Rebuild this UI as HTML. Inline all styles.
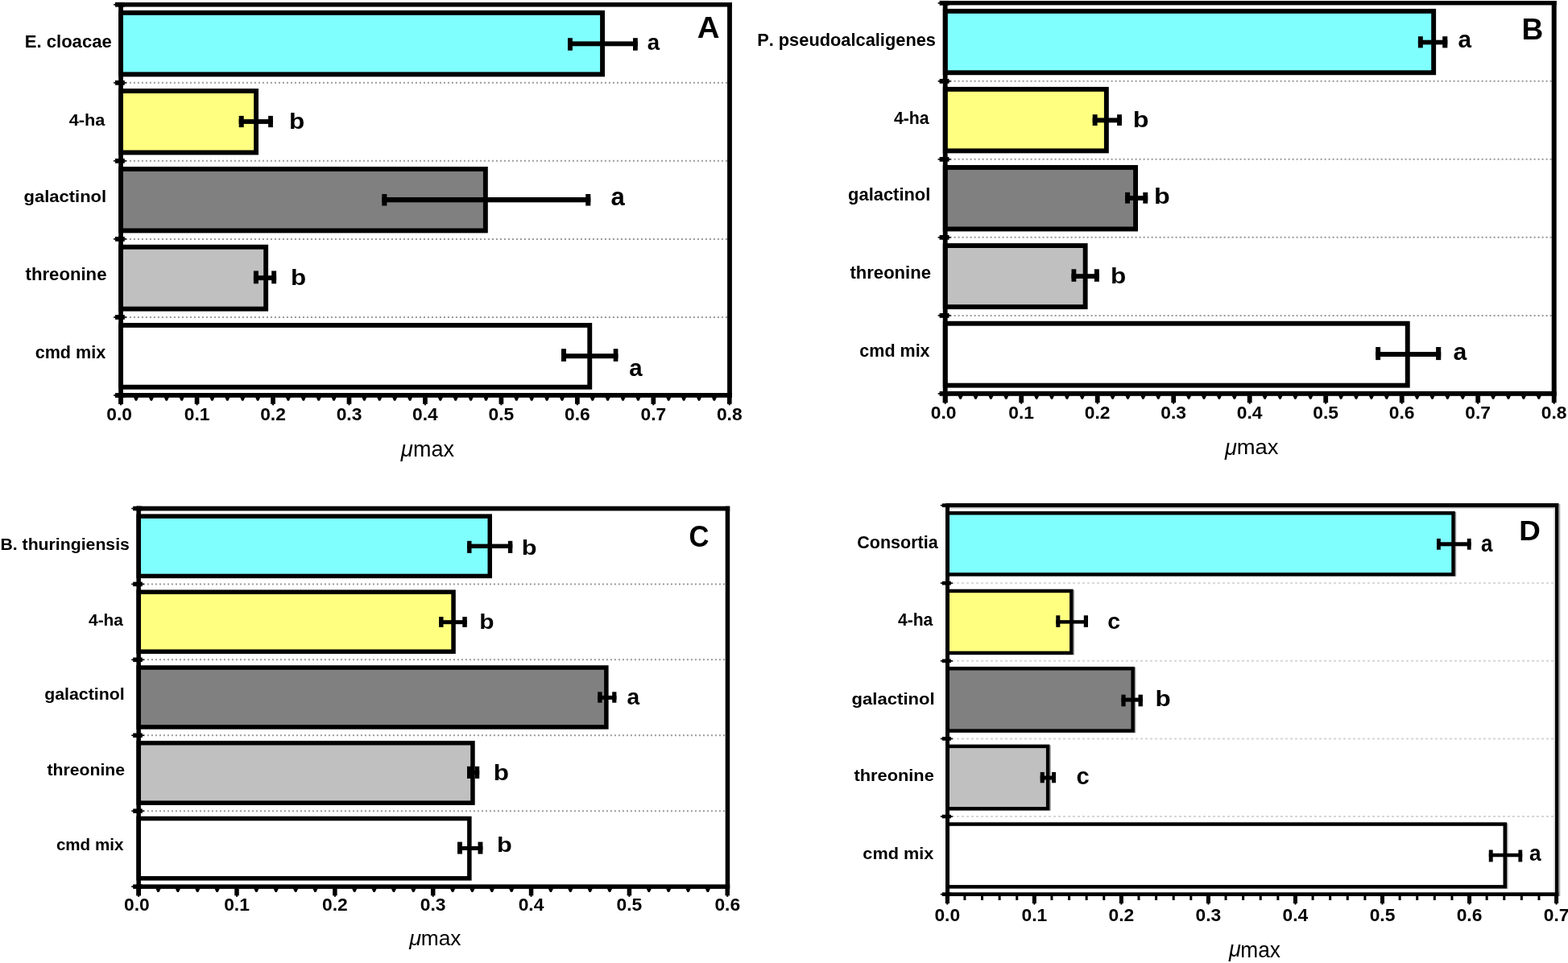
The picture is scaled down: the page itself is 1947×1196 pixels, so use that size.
<!DOCTYPE html>
<html><head><meta charset="utf-8"><title>μmax bar charts</title>
<style>
html,body{margin:0;padding:0;background:#fff;}
body{width:1947px;height:1196px;overflow:hidden;}
svg{display:block;font-family:'Liberation Sans', Arial, sans-serif;font-kerning:none;}
</style></head><body>
<svg width="1947" height="1196" viewBox="0 0 1947 1196">
<rect width="1947" height="1196" fill="#fff"/>
<line x1="155.90" y1="102.76" x2="903.10" y2="102.76" stroke="#999999" stroke-width="2" stroke-dasharray="2 3"/>
<line x1="155.90" y1="199.82" x2="903.10" y2="199.82" stroke="#999999" stroke-width="2" stroke-dasharray="2 3"/>
<line x1="155.90" y1="296.88" x2="903.10" y2="296.88" stroke="#999999" stroke-width="2" stroke-dasharray="2 3"/>
<line x1="155.90" y1="393.94" x2="903.10" y2="393.94" stroke="#999999" stroke-width="2" stroke-dasharray="2 3"/>
<rect x="147.20" y="12.90" width="603.80" height="82.40" fill="#000"/>
<rect x="152.90" y="18.80" width="592.20" height="70.60" fill="#80ffff"/>
<rect x="147.20" y="110.00" width="173.80" height="82.40" fill="#000"/>
<rect x="152.90" y="115.90" width="162.20" height="70.60" fill="#ffff80"/>
<rect x="147.20" y="207.00" width="458.60" height="82.40" fill="#000"/>
<rect x="152.90" y="212.90" width="447.00" height="70.60" fill="#808080"/>
<rect x="147.20" y="303.80" width="185.90" height="82.80" fill="#000"/>
<rect x="152.90" y="309.70" width="174.30" height="71.00" fill="#c0c0c0"/>
<rect x="147.20" y="401.00" width="588.00" height="82.70" fill="#000"/>
<rect x="152.90" y="406.90" width="576.40" height="70.90" fill="#ffffff"/>
<rect x="705.00" y="51.40" width="86.80" height="5.90" fill="#000"/>
<rect x="705.00" y="47.20" width="5.90" height="15.50" fill="#000"/>
<rect x="786.00" y="47.20" width="5.80" height="15.50" fill="#000"/>
<rect x="296.70" y="148.10" width="42.20" height="5.80" fill="#000"/>
<rect x="296.70" y="143.90" width="6.00" height="14.20" fill="#000"/>
<rect x="333.10" y="143.90" width="5.80" height="14.20" fill="#000"/>
<rect x="474.30" y="245.00" width="259.00" height="6.30" fill="#000"/>
<rect x="474.30" y="241.00" width="6.10" height="14.50" fill="#000"/>
<rect x="727.20" y="241.00" width="6.10" height="14.50" fill="#000"/>
<rect x="314.90" y="342.20" width="28.20" height="5.90" fill="#000"/>
<rect x="314.90" y="336.40" width="6.00" height="15.90" fill="#000"/>
<rect x="337.20" y="336.40" width="5.90" height="15.90" fill="#000"/>
<rect x="697.00" y="439.20" width="70.40" height="6.00" fill="#000"/>
<rect x="697.00" y="433.20" width="6.00" height="15.70" fill="#000"/>
<rect x="761.70" y="433.20" width="5.70" height="15.70" fill="#000"/>
<rect x="147.20" y="3.00" width="761.70" height="5.50" fill="#000"/>
<rect x="147.20" y="3.00" width="5.70" height="498.80" fill="#000"/>
<rect x="903.10" y="3.00" width="5.80" height="490.80" fill="#000"/>
<rect x="147.20" y="488.00" width="761.70" height="5.80" fill="#000"/>
<rect x="143.00" y="2.80" width="11.80" height="5.80" fill="#000"/>
<rect x="141.00" y="4.90" width="15.90" height="1.60" fill="#000"/>
<rect x="143.00" y="99.86" width="11.80" height="5.80" fill="#000"/>
<rect x="141.00" y="101.96" width="15.90" height="1.60" fill="#000"/>
<rect x="143.00" y="196.92" width="11.80" height="5.80" fill="#000"/>
<rect x="141.00" y="199.02" width="15.90" height="1.60" fill="#000"/>
<rect x="143.00" y="293.98" width="11.80" height="5.80" fill="#000"/>
<rect x="141.00" y="296.08" width="15.90" height="1.60" fill="#000"/>
<rect x="143.00" y="391.04" width="11.80" height="5.80" fill="#000"/>
<rect x="141.00" y="393.14" width="15.90" height="1.60" fill="#000"/>
<rect x="143.00" y="488.10" width="11.80" height="5.80" fill="#000"/>
<rect x="141.00" y="490.20" width="15.90" height="1.60" fill="#000"/>
<rect x="147.25" y="493.30" width="5.70" height="8.50" fill="#000"/>
<rect x="149.10" y="501.30" width="2.00" height="2.00" fill="#000"/>
<text x="132.25" y="522.00" font-size="22.80" font-weight="bold">0.0</text>
<path d="M165.79,493.30 L172.19,493.30 L169.99,497.80 L167.99,497.80 Z" fill="#000"/>
<path d="M184.68,493.30 L191.08,493.30 L188.88,497.80 L186.88,497.80 Z" fill="#000"/>
<path d="M203.58,493.30 L209.98,493.30 L207.78,497.80 L205.78,497.80 Z" fill="#000"/>
<path d="M222.47,493.30 L228.87,493.30 L226.67,497.80 L224.67,497.80 Z" fill="#000"/>
<rect x="241.71" y="493.30" width="5.70" height="8.50" fill="#000"/>
<rect x="243.56" y="501.30" width="2.00" height="2.00" fill="#000"/>
<text x="228.71" y="522.00" font-size="22.80" font-weight="bold">0.1</text>
<path d="M260.25,493.30 L266.65,493.30 L264.45,497.80 L262.45,497.80 Z" fill="#000"/>
<path d="M279.14,493.30 L285.54,493.30 L283.34,497.80 L281.34,497.80 Z" fill="#000"/>
<path d="M298.04,493.30 L304.44,493.30 L302.24,497.80 L300.24,497.80 Z" fill="#000"/>
<path d="M316.93,493.30 L323.33,493.30 L321.13,497.80 L319.13,497.80 Z" fill="#000"/>
<rect x="336.17" y="493.30" width="5.70" height="8.50" fill="#000"/>
<rect x="338.02" y="501.30" width="2.00" height="2.00" fill="#000"/>
<text x="323.17" y="522.00" font-size="22.80" font-weight="bold">0.2</text>
<path d="M354.71,493.30 L361.11,493.30 L358.91,497.80 L356.91,497.80 Z" fill="#000"/>
<path d="M373.60,493.30 L380.00,493.30 L377.80,497.80 L375.80,497.80 Z" fill="#000"/>
<path d="M392.50,493.30 L398.90,493.30 L396.70,497.80 L394.70,497.80 Z" fill="#000"/>
<path d="M411.39,493.30 L417.79,493.30 L415.59,497.80 L413.59,497.80 Z" fill="#000"/>
<rect x="430.63" y="493.30" width="5.70" height="8.50" fill="#000"/>
<rect x="432.48" y="501.30" width="2.00" height="2.00" fill="#000"/>
<text x="417.63" y="522.00" font-size="22.80" font-weight="bold">0.3</text>
<path d="M449.17,493.30 L455.57,493.30 L453.37,497.80 L451.37,497.80 Z" fill="#000"/>
<path d="M468.06,493.30 L474.46,493.30 L472.26,497.80 L470.26,497.80 Z" fill="#000"/>
<path d="M486.96,493.30 L493.36,493.30 L491.16,497.80 L489.16,497.80 Z" fill="#000"/>
<path d="M505.85,493.30 L512.25,493.30 L510.05,497.80 L508.05,497.80 Z" fill="#000"/>
<rect x="525.09" y="493.30" width="5.70" height="8.50" fill="#000"/>
<rect x="526.94" y="501.30" width="2.00" height="2.00" fill="#000"/>
<text x="512.09" y="522.00" font-size="22.80" font-weight="bold">0.4</text>
<path d="M543.63,493.30 L550.03,493.30 L547.83,497.80 L545.83,497.80 Z" fill="#000"/>
<path d="M562.52,493.30 L568.92,493.30 L566.72,497.80 L564.72,497.80 Z" fill="#000"/>
<path d="M581.42,493.30 L587.82,493.30 L585.62,497.80 L583.62,497.80 Z" fill="#000"/>
<path d="M600.31,493.30 L606.71,493.30 L604.51,497.80 L602.51,497.80 Z" fill="#000"/>
<rect x="619.55" y="493.30" width="5.70" height="8.50" fill="#000"/>
<rect x="621.40" y="501.30" width="2.00" height="2.00" fill="#000"/>
<text x="606.55" y="522.00" font-size="22.80" font-weight="bold">0.5</text>
<path d="M638.09,493.30 L644.49,493.30 L642.29,497.80 L640.29,497.80 Z" fill="#000"/>
<path d="M656.98,493.30 L663.38,493.30 L661.18,497.80 L659.18,497.80 Z" fill="#000"/>
<path d="M675.88,493.30 L682.28,493.30 L680.08,497.80 L678.08,497.80 Z" fill="#000"/>
<path d="M694.77,493.30 L701.17,493.30 L698.97,497.80 L696.97,497.80 Z" fill="#000"/>
<rect x="714.01" y="493.30" width="5.70" height="8.50" fill="#000"/>
<rect x="715.86" y="501.30" width="2.00" height="2.00" fill="#000"/>
<text x="701.01" y="522.00" font-size="22.80" font-weight="bold">0.6</text>
<path d="M732.55,493.30 L738.95,493.30 L736.75,497.80 L734.75,497.80 Z" fill="#000"/>
<path d="M751.44,493.30 L757.84,493.30 L755.64,497.80 L753.64,497.80 Z" fill="#000"/>
<path d="M770.34,493.30 L776.74,493.30 L774.54,497.80 L772.54,497.80 Z" fill="#000"/>
<path d="M789.23,493.30 L795.63,493.30 L793.43,497.80 L791.43,497.80 Z" fill="#000"/>
<rect x="808.47" y="493.30" width="5.70" height="8.50" fill="#000"/>
<rect x="810.32" y="501.30" width="2.00" height="2.00" fill="#000"/>
<text x="795.47" y="522.00" font-size="22.80" font-weight="bold">0.7</text>
<path d="M827.01,493.30 L833.41,493.30 L831.21,497.80 L829.21,497.80 Z" fill="#000"/>
<path d="M845.90,493.30 L852.30,493.30 L850.10,497.80 L848.10,497.80 Z" fill="#000"/>
<path d="M864.80,493.30 L871.20,493.30 L869.00,497.80 L867.00,497.80 Z" fill="#000"/>
<path d="M883.69,493.30 L890.09,493.30 L887.89,497.80 L885.89,497.80 Z" fill="#000"/>
<rect x="902.93" y="493.30" width="5.70" height="8.50" fill="#000"/>
<rect x="904.78" y="501.30" width="2.00" height="2.00" fill="#000"/>
<text x="889.93" y="522.00" font-size="22.80" font-weight="bold">0.8</text>
<text x="30.72" y="59.20" font-size="22.36" font-weight="bold" font-style="normal" textLength="108.03" lengthAdjust="spacingAndGlyphs" fill="#000">E. cloacae</text>
<text x="85.77" y="155.70" font-size="20.98" font-weight="bold" font-style="normal" textLength="44.69" lengthAdjust="spacingAndGlyphs" fill="#000">4-ha</text>
<text x="29.60" y="250.50" font-size="20.98" font-weight="bold" font-style="normal" textLength="102.56" lengthAdjust="spacingAndGlyphs" fill="#000">galactinol</text>
<text x="31.63" y="347.60" font-size="21.53" font-weight="bold" font-style="normal" textLength="100.83" lengthAdjust="spacingAndGlyphs" fill="#000">threonine</text>
<text x="43.66" y="444.90" font-size="21.67" font-weight="bold" font-style="normal" textLength="87.50" lengthAdjust="spacingAndGlyphs" fill="#000">cmd mix</text>
<text x="803.69" y="62.42" font-size="28.29" font-weight="bold" font-style="normal" textLength="15.33" lengthAdjust="spacingAndGlyphs" fill="#000">a</text>
<text x="359.02" y="159.93" font-size="27.37" font-weight="bold" font-style="normal" textLength="19.27" lengthAdjust="spacingAndGlyphs" fill="#000">b</text>
<text x="758.59" y="255.20" font-size="31.21" font-weight="bold" font-style="normal" textLength="17.31" lengthAdjust="spacingAndGlyphs" fill="#000">a</text>
<text x="361.13" y="354.13" font-size="27.64" font-weight="bold" font-style="normal" textLength="19.15" lengthAdjust="spacingAndGlyphs" fill="#000">b</text>
<text x="781.24" y="467.41" font-size="30.12" font-weight="bold" font-style="normal" textLength="16.38" lengthAdjust="spacingAndGlyphs" fill="#000">a</text>
<text x="865.84" y="46.90" font-size="37.65" font-weight="bold" font-style="normal" textLength="27.77" lengthAdjust="spacingAndGlyphs" fill="#000">A</text>
<text x="497.78" y="566.99" font-size="28.19" font-weight="normal" font-style="italic" textLength="15.07" lengthAdjust="spacingAndGlyphs" fill="#000">μ</text>
<text x="513.11" y="566.50" font-size="26.76" font-weight="normal" font-style="normal" textLength="50.88" lengthAdjust="spacingAndGlyphs" fill="#000">max</text>
<line x1="1179.60" y1="100.82" x2="1926.70" y2="100.82" stroke="#999999" stroke-width="2" stroke-dasharray="2 3"/>
<line x1="1179.60" y1="197.84" x2="1926.70" y2="197.84" stroke="#999999" stroke-width="2" stroke-dasharray="2 3"/>
<line x1="1179.60" y1="294.86" x2="1926.70" y2="294.86" stroke="#999999" stroke-width="2" stroke-dasharray="2 3"/>
<line x1="1179.60" y1="391.88" x2="1926.70" y2="391.88" stroke="#999999" stroke-width="2" stroke-dasharray="2 3"/>
<rect x="1170.80" y="10.90" width="612.30" height="82.30" fill="#000"/>
<rect x="1176.60" y="16.80" width="600.60" height="70.50" fill="#80ffff"/>
<rect x="1170.80" y="107.90" width="206.00" height="82.40" fill="#000"/>
<rect x="1176.60" y="113.80" width="194.30" height="70.60" fill="#ffff80"/>
<rect x="1170.80" y="205.00" width="242.20" height="82.40" fill="#000"/>
<rect x="1176.60" y="210.90" width="230.50" height="70.60" fill="#808080"/>
<rect x="1170.80" y="302.10" width="179.80" height="82.00" fill="#000"/>
<rect x="1176.60" y="308.00" width="168.10" height="70.20" fill="#c0c0c0"/>
<rect x="1170.80" y="398.80" width="579.90" height="82.80" fill="#000"/>
<rect x="1176.60" y="404.70" width="568.20" height="71.00" fill="#ffffff"/>
<rect x="1760.90" y="49.70" width="36.40" height="5.70" fill="#000"/>
<rect x="1760.90" y="45.20" width="5.90" height="14.20" fill="#000"/>
<rect x="1791.20" y="45.20" width="6.10" height="14.20" fill="#000"/>
<rect x="1356.70" y="146.40" width="36.20" height="5.90" fill="#000"/>
<rect x="1356.70" y="142.20" width="5.90" height="13.80" fill="#000"/>
<rect x="1387.10" y="142.20" width="5.80" height="13.80" fill="#000"/>
<rect x="1397.10" y="243.10" width="28.10" height="5.80" fill="#000"/>
<rect x="1397.10" y="238.90" width="5.90" height="13.80" fill="#000"/>
<rect x="1419.30" y="238.90" width="5.90" height="13.80" fill="#000"/>
<rect x="1330.50" y="340.20" width="34.30" height="5.80" fill="#000"/>
<rect x="1330.50" y="334.30" width="5.80" height="15.50" fill="#000"/>
<rect x="1358.90" y="334.30" width="5.90" height="15.50" fill="#000"/>
<rect x="1708.20" y="437.00" width="81.00" height="6.00" fill="#000"/>
<rect x="1708.20" y="431.00" width="5.90" height="16.10" fill="#000"/>
<rect x="1783.10" y="431.00" width="6.10" height="16.10" fill="#000"/>
<rect x="1170.80" y="1.00" width="761.90" height="5.40" fill="#000"/>
<rect x="1170.80" y="1.00" width="5.80" height="499.20" fill="#000"/>
<rect x="1926.70" y="1.00" width="6.00" height="490.80" fill="#000"/>
<rect x="1170.80" y="485.90" width="761.90" height="5.90" fill="#000"/>
<rect x="1166.60" y="0.90" width="11.90" height="5.80" fill="#000"/>
<rect x="1164.60" y="3.00" width="16.00" height="1.60" fill="#000"/>
<rect x="1166.60" y="97.92" width="11.90" height="5.80" fill="#000"/>
<rect x="1164.60" y="100.02" width="16.00" height="1.60" fill="#000"/>
<rect x="1166.60" y="194.94" width="11.90" height="5.80" fill="#000"/>
<rect x="1164.60" y="197.04" width="16.00" height="1.60" fill="#000"/>
<rect x="1166.60" y="291.96" width="11.90" height="5.80" fill="#000"/>
<rect x="1164.60" y="294.06" width="16.00" height="1.60" fill="#000"/>
<rect x="1166.60" y="388.98" width="11.90" height="5.80" fill="#000"/>
<rect x="1164.60" y="391.08" width="16.00" height="1.60" fill="#000"/>
<rect x="1166.60" y="486.00" width="11.90" height="5.80" fill="#000"/>
<rect x="1164.60" y="488.10" width="16.00" height="1.60" fill="#000"/>
<rect x="1170.80" y="491.30" width="5.80" height="8.90" fill="#000"/>
<rect x="1172.70" y="499.70" width="2.00" height="2.00" fill="#000"/>
<text x="1155.85" y="519.80" font-size="22.80" font-weight="bold">0.0</text>
<path d="M1189.40,491.30 L1195.80,491.30 L1193.60,495.80 L1191.60,495.80 Z" fill="#000"/>
<path d="M1208.30,491.30 L1214.70,491.30 L1212.50,495.80 L1210.50,495.80 Z" fill="#000"/>
<path d="M1227.20,491.30 L1233.60,491.30 L1231.40,495.80 L1229.40,495.80 Z" fill="#000"/>
<path d="M1246.10,491.30 L1252.50,491.30 L1250.30,495.80 L1248.30,495.80 Z" fill="#000"/>
<rect x="1265.30" y="491.30" width="5.80" height="8.90" fill="#000"/>
<rect x="1267.20" y="499.70" width="2.00" height="2.00" fill="#000"/>
<text x="1252.35" y="519.80" font-size="22.80" font-weight="bold">0.1</text>
<path d="M1283.90,491.30 L1290.30,491.30 L1288.10,495.80 L1286.10,495.80 Z" fill="#000"/>
<path d="M1302.80,491.30 L1309.20,491.30 L1307.00,495.80 L1305.00,495.80 Z" fill="#000"/>
<path d="M1321.70,491.30 L1328.10,491.30 L1325.90,495.80 L1323.90,495.80 Z" fill="#000"/>
<path d="M1340.60,491.30 L1347.00,491.30 L1344.80,495.80 L1342.80,495.80 Z" fill="#000"/>
<rect x="1359.80" y="491.30" width="5.80" height="8.90" fill="#000"/>
<rect x="1361.70" y="499.70" width="2.00" height="2.00" fill="#000"/>
<text x="1346.85" y="519.80" font-size="22.80" font-weight="bold">0.2</text>
<path d="M1378.40,491.30 L1384.80,491.30 L1382.60,495.80 L1380.60,495.80 Z" fill="#000"/>
<path d="M1397.30,491.30 L1403.70,491.30 L1401.50,495.80 L1399.50,495.80 Z" fill="#000"/>
<path d="M1416.20,491.30 L1422.60,491.30 L1420.40,495.80 L1418.40,495.80 Z" fill="#000"/>
<path d="M1435.10,491.30 L1441.50,491.30 L1439.30,495.80 L1437.30,495.80 Z" fill="#000"/>
<rect x="1454.30" y="491.30" width="5.80" height="8.90" fill="#000"/>
<rect x="1456.20" y="499.70" width="2.00" height="2.00" fill="#000"/>
<text x="1441.35" y="519.80" font-size="22.80" font-weight="bold">0.3</text>
<path d="M1472.90,491.30 L1479.30,491.30 L1477.10,495.80 L1475.10,495.80 Z" fill="#000"/>
<path d="M1491.80,491.30 L1498.20,491.30 L1496.00,495.80 L1494.00,495.80 Z" fill="#000"/>
<path d="M1510.70,491.30 L1517.10,491.30 L1514.90,495.80 L1512.90,495.80 Z" fill="#000"/>
<path d="M1529.60,491.30 L1536.00,491.30 L1533.80,495.80 L1531.80,495.80 Z" fill="#000"/>
<rect x="1548.80" y="491.30" width="5.80" height="8.90" fill="#000"/>
<rect x="1550.70" y="499.70" width="2.00" height="2.00" fill="#000"/>
<text x="1535.85" y="519.80" font-size="22.80" font-weight="bold">0.4</text>
<path d="M1567.40,491.30 L1573.80,491.30 L1571.60,495.80 L1569.60,495.80 Z" fill="#000"/>
<path d="M1586.30,491.30 L1592.70,491.30 L1590.50,495.80 L1588.50,495.80 Z" fill="#000"/>
<path d="M1605.20,491.30 L1611.60,491.30 L1609.40,495.80 L1607.40,495.80 Z" fill="#000"/>
<path d="M1624.10,491.30 L1630.50,491.30 L1628.30,495.80 L1626.30,495.80 Z" fill="#000"/>
<rect x="1643.30" y="491.30" width="5.80" height="8.90" fill="#000"/>
<rect x="1645.20" y="499.70" width="2.00" height="2.00" fill="#000"/>
<text x="1630.35" y="519.80" font-size="22.80" font-weight="bold">0.5</text>
<path d="M1661.90,491.30 L1668.30,491.30 L1666.10,495.80 L1664.10,495.80 Z" fill="#000"/>
<path d="M1680.80,491.30 L1687.20,491.30 L1685.00,495.80 L1683.00,495.80 Z" fill="#000"/>
<path d="M1699.70,491.30 L1706.10,491.30 L1703.90,495.80 L1701.90,495.80 Z" fill="#000"/>
<path d="M1718.60,491.30 L1725.00,491.30 L1722.80,495.80 L1720.80,495.80 Z" fill="#000"/>
<rect x="1737.80" y="491.30" width="5.80" height="8.90" fill="#000"/>
<rect x="1739.70" y="499.70" width="2.00" height="2.00" fill="#000"/>
<text x="1724.85" y="519.80" font-size="22.80" font-weight="bold">0.6</text>
<path d="M1756.40,491.30 L1762.80,491.30 L1760.60,495.80 L1758.60,495.80 Z" fill="#000"/>
<path d="M1775.30,491.30 L1781.70,491.30 L1779.50,495.80 L1777.50,495.80 Z" fill="#000"/>
<path d="M1794.20,491.30 L1800.60,491.30 L1798.40,495.80 L1796.40,495.80 Z" fill="#000"/>
<path d="M1813.10,491.30 L1819.50,491.30 L1817.30,495.80 L1815.30,495.80 Z" fill="#000"/>
<rect x="1832.30" y="491.30" width="5.80" height="8.90" fill="#000"/>
<rect x="1834.20" y="499.70" width="2.00" height="2.00" fill="#000"/>
<text x="1819.35" y="519.80" font-size="22.80" font-weight="bold">0.7</text>
<path d="M1850.90,491.30 L1857.30,491.30 L1855.10,495.80 L1853.10,495.80 Z" fill="#000"/>
<path d="M1869.80,491.30 L1876.20,491.30 L1874.00,495.80 L1872.00,495.80 Z" fill="#000"/>
<path d="M1888.70,491.30 L1895.10,491.30 L1892.90,495.80 L1890.90,495.80 Z" fill="#000"/>
<path d="M1907.60,491.30 L1914.00,491.30 L1911.80,495.80 L1909.80,495.80 Z" fill="#000"/>
<rect x="1926.80" y="491.30" width="5.80" height="8.90" fill="#000"/>
<rect x="1928.70" y="499.70" width="2.00" height="2.00" fill="#000"/>
<text x="1913.85" y="519.80" font-size="22.80" font-weight="bold">0.8</text>
<text x="940.14" y="57.20" font-size="22.08" font-weight="bold" font-style="normal" textLength="221.85" lengthAdjust="spacingAndGlyphs" fill="#000">P. pseudoalcaligenes</text>
<text x="1109.88" y="153.90" font-size="21.80" font-weight="bold" font-style="normal" textLength="43.79" lengthAdjust="spacingAndGlyphs" fill="#000">4-ha</text>
<text x="1053.10" y="248.80" font-size="21.80" font-weight="bold" font-style="normal" textLength="102.25" lengthAdjust="spacingAndGlyphs" fill="#000">galactinol</text>
<text x="1055.43" y="346.10" font-size="22.08" font-weight="bold" font-style="normal" fill="#000">threonine</text>
<text x="1067.36" y="442.70" font-size="21.25" font-weight="bold" font-style="normal" textLength="87.20" lengthAdjust="spacingAndGlyphs" fill="#000">cmd mix</text>
<text x="1810.63" y="58.62" font-size="28.84" font-weight="bold" font-style="normal" textLength="16.58" lengthAdjust="spacingAndGlyphs" fill="#000">a</text>
<text x="1406.87" y="157.83" font-size="27.37" font-weight="bold" font-style="normal" textLength="19.76" lengthAdjust="spacingAndGlyphs" fill="#000">b</text>
<text x="1433.07" y="252.83" font-size="27.37" font-weight="bold" font-style="normal" textLength="19.76" lengthAdjust="spacingAndGlyphs" fill="#000">b</text>
<text x="1379.02" y="351.64" font-size="26.83" font-weight="bold" font-style="normal" textLength="19.27" lengthAdjust="spacingAndGlyphs" fill="#000">b</text>
<text x="1804.62" y="446.81" font-size="29.39" font-weight="bold" font-style="normal" textLength="16.79" lengthAdjust="spacingAndGlyphs" fill="#000">a</text>
<text x="1889.52" y="48.90" font-size="37.65" font-weight="bold" font-style="normal" textLength="26.76" lengthAdjust="spacingAndGlyphs" fill="#000">B</text>
<text x="1521.07" y="564.97" font-size="27.77" font-weight="normal" font-style="italic" textLength="14.87" lengthAdjust="spacingAndGlyphs" fill="#000">μ</text>
<text x="1535.68" y="564.20" font-size="25.83" font-weight="normal" font-style="normal" textLength="51.71" lengthAdjust="spacingAndGlyphs" fill="#000">max</text>
<line x1="177.90" y1="725.43" x2="900.70" y2="725.43" stroke="#999999" stroke-width="2" stroke-dasharray="2 3"/>
<line x1="177.90" y1="819.36" x2="900.70" y2="819.36" stroke="#999999" stroke-width="2" stroke-dasharray="2 3"/>
<line x1="177.90" y1="913.29" x2="900.70" y2="913.29" stroke="#999999" stroke-width="2" stroke-dasharray="2 3"/>
<line x1="177.90" y1="1007.22" x2="900.70" y2="1007.22" stroke="#999999" stroke-width="2" stroke-dasharray="2 3"/>
<rect x="169.40" y="638.40" width="441.60" height="79.80" fill="#000"/>
<rect x="174.90" y="643.90" width="430.60" height="68.80" fill="#80ffff"/>
<rect x="169.40" y="732.50" width="396.40" height="79.50" fill="#000"/>
<rect x="174.90" y="738.00" width="385.40" height="68.50" fill="#ffff80"/>
<rect x="169.40" y="826.30" width="586.20" height="79.40" fill="#000"/>
<rect x="174.90" y="831.80" width="575.20" height="68.40" fill="#808080"/>
<rect x="169.40" y="920.00" width="420.30" height="79.90" fill="#000"/>
<rect x="174.90" y="925.50" width="409.30" height="68.90" fill="#c0c0c0"/>
<rect x="169.40" y="1013.80" width="416.20" height="79.80" fill="#000"/>
<rect x="174.90" y="1019.30" width="405.20" height="68.80" fill="#ffffff"/>
<rect x="580.10" y="675.60" width="56.20" height="5.40" fill="#000"/>
<rect x="580.10" y="671.80" width="5.40" height="15.10" fill="#000"/>
<rect x="630.90" y="671.80" width="5.40" height="15.10" fill="#000"/>
<rect x="545.10" y="770.20" width="34.70" height="5.00" fill="#000"/>
<rect x="545.10" y="766.00" width="5.40" height="12.90" fill="#000"/>
<rect x="574.30" y="766.00" width="5.50" height="12.90" fill="#000"/>
<rect x="742.20" y="863.90" width="23.20" height="5.00" fill="#000"/>
<rect x="742.20" y="859.30" width="5.40" height="13.40" fill="#000"/>
<rect x="760.20" y="859.30" width="5.20" height="13.40" fill="#000"/>
<rect x="580.00" y="957.00" width="15.20" height="5.00" fill="#000"/>
<rect x="580.00" y="951.80" width="5.20" height="15.10" fill="#000"/>
<rect x="589.70" y="951.80" width="5.50" height="15.10" fill="#000"/>
<rect x="568.00" y="1051.00" width="31.40" height="5.00" fill="#000"/>
<rect x="568.00" y="1045.60" width="5.90" height="15.00" fill="#000"/>
<rect x="593.50" y="1045.60" width="5.90" height="15.00" fill="#000"/>
<rect x="169.40" y="628.70" width="736.80" height="5.70" fill="#000"/>
<rect x="169.40" y="628.70" width="5.50" height="483.60" fill="#000"/>
<rect x="900.70" y="628.70" width="5.50" height="475.20" fill="#000"/>
<rect x="169.40" y="1098.40" width="736.80" height="5.50" fill="#000"/>
<rect x="165.20" y="628.75" width="11.60" height="5.50" fill="#000"/>
<rect x="163.20" y="630.70" width="15.70" height="1.60" fill="#000"/>
<rect x="165.20" y="722.68" width="11.60" height="5.50" fill="#000"/>
<rect x="163.20" y="724.63" width="15.70" height="1.60" fill="#000"/>
<rect x="165.20" y="816.61" width="11.60" height="5.50" fill="#000"/>
<rect x="163.20" y="818.56" width="15.70" height="1.60" fill="#000"/>
<rect x="165.20" y="910.54" width="11.60" height="5.50" fill="#000"/>
<rect x="163.20" y="912.49" width="15.70" height="1.60" fill="#000"/>
<rect x="165.20" y="1004.47" width="11.60" height="5.50" fill="#000"/>
<rect x="163.20" y="1006.42" width="15.70" height="1.60" fill="#000"/>
<rect x="165.20" y="1098.40" width="11.60" height="5.50" fill="#000"/>
<rect x="163.20" y="1100.35" width="15.70" height="1.60" fill="#000"/>
<rect x="169.40" y="1103.40" width="5.50" height="8.90" fill="#000"/>
<rect x="171.15" y="1111.80" width="2.00" height="2.00" fill="#000"/>
<text x="154.10" y="1131.00" font-size="22.80" font-weight="bold">0.0</text>
<path d="M193.32,1103.40 L199.72,1103.40 L197.52,1107.90 L195.52,1107.90 Z" fill="#000"/>
<path d="M217.69,1103.40 L224.09,1103.40 L221.89,1107.90 L219.89,1107.90 Z" fill="#000"/>
<path d="M242.06,1103.40 L248.46,1103.40 L246.26,1107.90 L244.26,1107.90 Z" fill="#000"/>
<path d="M266.43,1103.40 L272.83,1103.40 L270.63,1107.90 L268.63,1107.90 Z" fill="#000"/>
<rect x="291.25" y="1103.40" width="5.50" height="8.90" fill="#000"/>
<rect x="293.00" y="1111.80" width="2.00" height="2.00" fill="#000"/>
<text x="278.15" y="1131.00" font-size="22.80" font-weight="bold">0.1</text>
<path d="M315.17,1103.40 L321.57,1103.40 L319.37,1107.90 L317.37,1107.90 Z" fill="#000"/>
<path d="M339.54,1103.40 L345.94,1103.40 L343.74,1107.90 L341.74,1107.90 Z" fill="#000"/>
<path d="M363.91,1103.40 L370.31,1103.40 L368.11,1107.90 L366.11,1107.90 Z" fill="#000"/>
<path d="M388.28,1103.40 L394.68,1103.40 L392.48,1107.90 L390.48,1107.90 Z" fill="#000"/>
<rect x="413.10" y="1103.40" width="5.50" height="8.90" fill="#000"/>
<rect x="414.85" y="1111.80" width="2.00" height="2.00" fill="#000"/>
<text x="400.00" y="1131.00" font-size="22.80" font-weight="bold">0.2</text>
<path d="M437.02,1103.40 L443.42,1103.40 L441.22,1107.90 L439.22,1107.90 Z" fill="#000"/>
<path d="M461.39,1103.40 L467.79,1103.40 L465.59,1107.90 L463.59,1107.90 Z" fill="#000"/>
<path d="M485.76,1103.40 L492.16,1103.40 L489.96,1107.90 L487.96,1107.90 Z" fill="#000"/>
<path d="M510.13,1103.40 L516.53,1103.40 L514.33,1107.90 L512.33,1107.90 Z" fill="#000"/>
<rect x="534.95" y="1103.40" width="5.50" height="8.90" fill="#000"/>
<rect x="536.70" y="1111.80" width="2.00" height="2.00" fill="#000"/>
<text x="521.85" y="1131.00" font-size="22.80" font-weight="bold">0.3</text>
<path d="M558.87,1103.40 L565.27,1103.40 L563.07,1107.90 L561.07,1107.90 Z" fill="#000"/>
<path d="M583.24,1103.40 L589.64,1103.40 L587.44,1107.90 L585.44,1107.90 Z" fill="#000"/>
<path d="M607.61,1103.40 L614.01,1103.40 L611.81,1107.90 L609.81,1107.90 Z" fill="#000"/>
<path d="M631.98,1103.40 L638.38,1103.40 L636.18,1107.90 L634.18,1107.90 Z" fill="#000"/>
<rect x="656.80" y="1103.40" width="5.50" height="8.90" fill="#000"/>
<rect x="658.55" y="1111.80" width="2.00" height="2.00" fill="#000"/>
<text x="643.70" y="1131.00" font-size="22.80" font-weight="bold">0.4</text>
<path d="M680.72,1103.40 L687.12,1103.40 L684.92,1107.90 L682.92,1107.90 Z" fill="#000"/>
<path d="M705.09,1103.40 L711.49,1103.40 L709.29,1107.90 L707.29,1107.90 Z" fill="#000"/>
<path d="M729.46,1103.40 L735.86,1103.40 L733.66,1107.90 L731.66,1107.90 Z" fill="#000"/>
<path d="M753.83,1103.40 L760.23,1103.40 L758.03,1107.90 L756.03,1107.90 Z" fill="#000"/>
<rect x="778.65" y="1103.40" width="5.50" height="8.90" fill="#000"/>
<rect x="780.40" y="1111.80" width="2.00" height="2.00" fill="#000"/>
<text x="765.55" y="1131.00" font-size="22.80" font-weight="bold">0.5</text>
<path d="M802.57,1103.40 L808.97,1103.40 L806.77,1107.90 L804.77,1107.90 Z" fill="#000"/>
<path d="M826.94,1103.40 L833.34,1103.40 L831.14,1107.90 L829.14,1107.90 Z" fill="#000"/>
<path d="M851.31,1103.40 L857.71,1103.40 L855.51,1107.90 L853.51,1107.90 Z" fill="#000"/>
<path d="M875.68,1103.40 L882.08,1103.40 L879.88,1107.90 L877.88,1107.90 Z" fill="#000"/>
<rect x="900.50" y="1103.40" width="5.50" height="8.90" fill="#000"/>
<rect x="902.25" y="1111.80" width="2.00" height="2.00" fill="#000"/>
<text x="887.40" y="1131.00" font-size="22.80" font-weight="bold">0.6</text>
<text x="0.48" y="683.20" font-size="20.70" font-weight="bold" font-style="normal" textLength="160.39" lengthAdjust="spacingAndGlyphs" fill="#000">B. thuringiensis</text>
<text x="110.08" y="776.70" font-size="20.70" font-weight="bold" font-style="normal" textLength="42.88" lengthAdjust="spacingAndGlyphs" fill="#000">4-ha</text>
<text x="55.23" y="869.30" font-size="20.29" font-weight="bold" font-style="normal" textLength="99.48" lengthAdjust="spacingAndGlyphs" fill="#000">galactinol</text>
<text x="58.54" y="962.70" font-size="20.29" font-weight="bold" font-style="normal" textLength="96.48" lengthAdjust="spacingAndGlyphs" fill="#000">threonine</text>
<text x="69.90" y="1056.00" font-size="20.70" font-weight="bold" font-style="normal" textLength="83.45" lengthAdjust="spacingAndGlyphs" fill="#000">cmd mix</text>
<text x="647.87" y="689.14" font-size="26.28" font-weight="bold" font-style="normal" textLength="18.79" lengthAdjust="spacingAndGlyphs" fill="#000">b</text>
<text x="595.32" y="780.74" font-size="26.14" font-weight="bold" font-style="normal" textLength="18.30" lengthAdjust="spacingAndGlyphs" fill="#000">b</text>
<text x="778.58" y="874.52" font-size="28.29" font-weight="bold" font-style="normal" textLength="15.65" lengthAdjust="spacingAndGlyphs" fill="#000">a</text>
<text x="612.72" y="968.63" font-size="27.23" font-weight="bold" font-style="normal" textLength="19.27" lengthAdjust="spacingAndGlyphs" fill="#000">b</text>
<text x="616.97" y="1058.24" font-size="26.14" font-weight="bold" font-style="normal" textLength="18.79" lengthAdjust="spacingAndGlyphs" fill="#000">b</text>
<text x="855.48" y="679.20" font-size="36.09" font-weight="bold" font-style="normal" textLength="24.96" lengthAdjust="spacingAndGlyphs" fill="#000">C</text>
<text x="508.27" y="1174.38" font-size="26.66" font-weight="normal" font-style="italic" textLength="14.87" lengthAdjust="spacingAndGlyphs" fill="#000">μ</text>
<text x="522.75" y="1173.90" font-size="25.27" font-weight="normal" font-style="normal" textLength="49.73" lengthAdjust="spacingAndGlyphs" fill="#000">max</text>
<line x1="1182.00" y1="724.25" x2="1931.00" y2="724.25" stroke="#d6d6d6" stroke-width="2" stroke-dasharray="3 3"/>
<line x1="1182.00" y1="820.85" x2="1931.00" y2="820.85" stroke="#d6d6d6" stroke-width="2" stroke-dasharray="3 3"/>
<line x1="1182.00" y1="917.45" x2="1931.00" y2="917.45" stroke="#d6d6d6" stroke-width="2" stroke-dasharray="3 3"/>
<line x1="1182.00" y1="1014.05" x2="1931.00" y2="1014.05" stroke="#d6d6d6" stroke-width="2" stroke-dasharray="3 3"/>
<rect x="1806.80" y="636.00" width="1.40" height="80.00" fill="#9a9a9a"/>
<rect x="1174.00" y="635.00" width="632.80" height="80.70" fill="#000"/>
<rect x="1179.00" y="639.50" width="623.30" height="71.70" fill="#80ffff"/>
<rect x="1332.60" y="732.70" width="1.40" height="80.80" fill="#9a9a9a"/>
<rect x="1174.00" y="731.70" width="158.60" height="81.50" fill="#000"/>
<rect x="1179.00" y="736.20" width="149.10" height="72.50" fill="#ffff80"/>
<rect x="1408.90" y="829.00" width="1.40" height="81.20" fill="#9a9a9a"/>
<rect x="1174.00" y="828.00" width="234.90" height="81.90" fill="#000"/>
<rect x="1179.00" y="832.50" width="225.40" height="72.90" fill="#808080"/>
<rect x="1303.40" y="925.60" width="1.40" height="81.30" fill="#9a9a9a"/>
<rect x="1174.00" y="924.60" width="129.40" height="82.00" fill="#000"/>
<rect x="1179.00" y="929.10" width="119.90" height="73.00" fill="#c0c0c0"/>
<rect x="1871.00" y="1022.30" width="1.40" height="81.60" fill="#9a9a9a"/>
<rect x="1174.00" y="1021.30" width="697.00" height="82.30" fill="#000"/>
<rect x="1179.00" y="1025.80" width="687.50" height="73.30" fill="#ffffff"/>
<rect x="1784.00" y="673.30" width="42.60" height="5.00" fill="#000"/>
<rect x="1784.00" y="668.90" width="4.80" height="13.80" fill="#000"/>
<rect x="1821.80" y="668.90" width="4.80" height="13.80" fill="#000"/>
<rect x="1311.30" y="770.20" width="39.70" height="4.40" fill="#000"/>
<rect x="1311.30" y="764.30" width="5.00" height="14.60" fill="#000"/>
<rect x="1345.80" y="764.30" width="5.20" height="14.60" fill="#000"/>
<rect x="1392.40" y="866.60" width="26.50" height="5.00" fill="#000"/>
<rect x="1392.40" y="862.70" width="5.20" height="14.60" fill="#000"/>
<rect x="1413.50" y="862.70" width="5.40" height="14.60" fill="#000"/>
<rect x="1291.70" y="963.50" width="19.30" height="5.00" fill="#000"/>
<rect x="1291.70" y="958.90" width="5.10" height="13.40" fill="#000"/>
<rect x="1306.00" y="958.90" width="5.00" height="13.40" fill="#000"/>
<rect x="1848.80" y="1059.80" width="41.40" height="4.50" fill="#000"/>
<rect x="1848.80" y="1055.50" width="4.90" height="14.90" fill="#000"/>
<rect x="1885.40" y="1055.50" width="4.80" height="14.90" fill="#000"/>
<rect x="1174.00" y="625.00" width="761.30" height="5.30" fill="#000"/>
<rect x="1174.00" y="625.00" width="5.00" height="497.00" fill="#000"/>
<rect x="1929.30" y="630.30" width="1.70" height="478.00" fill="#d8d8d8"/>
<rect x="1935.30" y="626.00" width="2.00" height="487.00" fill="#a8a8a8"/>
<rect x="1179.00" y="630.30" width="752.00" height="1.30" fill="#b8b8b8"/>
<rect x="1931.00" y="625.00" width="4.30" height="488.00" fill="#000"/>
<rect x="1174.00" y="1108.30" width="761.30" height="4.70" fill="#000"/>
<rect x="1169.80" y="625.35" width="11.10" height="4.60" fill="#000"/>
<rect x="1167.80" y="626.85" width="15.20" height="1.60" fill="#000"/>
<rect x="1169.80" y="721.95" width="11.10" height="4.60" fill="#000"/>
<rect x="1167.80" y="723.45" width="15.20" height="1.60" fill="#000"/>
<rect x="1169.80" y="818.55" width="11.10" height="4.60" fill="#000"/>
<rect x="1167.80" y="820.05" width="15.20" height="1.60" fill="#000"/>
<rect x="1169.80" y="915.15" width="11.10" height="4.60" fill="#000"/>
<rect x="1167.80" y="916.65" width="15.20" height="1.60" fill="#000"/>
<rect x="1169.80" y="1011.75" width="11.10" height="4.60" fill="#000"/>
<rect x="1167.80" y="1013.25" width="15.20" height="1.60" fill="#000"/>
<rect x="1169.80" y="1108.35" width="11.10" height="4.60" fill="#000"/>
<rect x="1167.80" y="1109.85" width="15.20" height="1.60" fill="#000"/>
<rect x="1173.80" y="1112.50" width="5.00" height="9.50" fill="#000"/>
<rect x="1175.30" y="1121.50" width="2.00" height="2.00" fill="#000"/>
<text x="1160.45" y="1143.80" font-size="22.80" font-weight="bold">0.0</text>
<rect x="1196.41" y="1112.50" width="3.00" height="5.50" fill="#000"/>
<rect x="1218.02" y="1112.50" width="3.00" height="5.50" fill="#000"/>
<rect x="1239.62" y="1112.50" width="3.00" height="5.50" fill="#000"/>
<rect x="1261.23" y="1112.50" width="3.00" height="5.50" fill="#000"/>
<rect x="1281.84" y="1112.50" width="5.00" height="9.50" fill="#000"/>
<rect x="1283.34" y="1121.50" width="2.00" height="2.00" fill="#000"/>
<text x="1268.49" y="1143.80" font-size="22.80" font-weight="bold">0.1</text>
<rect x="1304.45" y="1112.50" width="3.00" height="5.50" fill="#000"/>
<rect x="1326.06" y="1112.50" width="3.00" height="5.50" fill="#000"/>
<rect x="1347.66" y="1112.50" width="3.00" height="5.50" fill="#000"/>
<rect x="1369.27" y="1112.50" width="3.00" height="5.50" fill="#000"/>
<rect x="1389.88" y="1112.50" width="5.00" height="9.50" fill="#000"/>
<rect x="1391.38" y="1121.50" width="2.00" height="2.00" fill="#000"/>
<text x="1376.53" y="1143.80" font-size="22.80" font-weight="bold">0.2</text>
<rect x="1412.49" y="1112.50" width="3.00" height="5.50" fill="#000"/>
<rect x="1434.10" y="1112.50" width="3.00" height="5.50" fill="#000"/>
<rect x="1455.70" y="1112.50" width="3.00" height="5.50" fill="#000"/>
<rect x="1477.31" y="1112.50" width="3.00" height="5.50" fill="#000"/>
<rect x="1497.92" y="1112.50" width="5.00" height="9.50" fill="#000"/>
<rect x="1499.42" y="1121.50" width="2.00" height="2.00" fill="#000"/>
<text x="1484.57" y="1143.80" font-size="22.80" font-weight="bold">0.3</text>
<rect x="1520.53" y="1112.50" width="3.00" height="5.50" fill="#000"/>
<rect x="1542.14" y="1112.50" width="3.00" height="5.50" fill="#000"/>
<rect x="1563.74" y="1112.50" width="3.00" height="5.50" fill="#000"/>
<rect x="1585.35" y="1112.50" width="3.00" height="5.50" fill="#000"/>
<rect x="1605.96" y="1112.50" width="5.00" height="9.50" fill="#000"/>
<rect x="1607.46" y="1121.50" width="2.00" height="2.00" fill="#000"/>
<text x="1592.61" y="1143.80" font-size="22.80" font-weight="bold">0.4</text>
<rect x="1628.57" y="1112.50" width="3.00" height="5.50" fill="#000"/>
<rect x="1650.18" y="1112.50" width="3.00" height="5.50" fill="#000"/>
<rect x="1671.78" y="1112.50" width="3.00" height="5.50" fill="#000"/>
<rect x="1693.39" y="1112.50" width="3.00" height="5.50" fill="#000"/>
<rect x="1714.00" y="1112.50" width="5.00" height="9.50" fill="#000"/>
<rect x="1715.50" y="1121.50" width="2.00" height="2.00" fill="#000"/>
<text x="1700.65" y="1143.80" font-size="22.80" font-weight="bold">0.5</text>
<rect x="1736.61" y="1112.50" width="3.00" height="5.50" fill="#000"/>
<rect x="1758.22" y="1112.50" width="3.00" height="5.50" fill="#000"/>
<rect x="1779.82" y="1112.50" width="3.00" height="5.50" fill="#000"/>
<rect x="1801.43" y="1112.50" width="3.00" height="5.50" fill="#000"/>
<rect x="1822.04" y="1112.50" width="5.00" height="9.50" fill="#000"/>
<rect x="1823.54" y="1121.50" width="2.00" height="2.00" fill="#000"/>
<text x="1808.69" y="1143.80" font-size="22.80" font-weight="bold">0.6</text>
<rect x="1844.65" y="1112.50" width="3.00" height="5.50" fill="#000"/>
<rect x="1866.26" y="1112.50" width="3.00" height="5.50" fill="#000"/>
<rect x="1887.86" y="1112.50" width="3.00" height="5.50" fill="#000"/>
<rect x="1909.47" y="1112.50" width="3.00" height="5.50" fill="#000"/>
<rect x="1930.08" y="1112.50" width="5.00" height="9.50" fill="#000"/>
<rect x="1931.58" y="1121.50" width="2.00" height="2.00" fill="#000"/>
<text x="1916.73" y="1143.80" font-size="22.80" font-weight="bold">0.7</text>
<text x="1064.22" y="680.70" font-size="22.49" font-weight="bold" font-style="normal" textLength="100.45" lengthAdjust="spacingAndGlyphs" fill="#000">Consortia</text>
<text x="1114.98" y="777.30" font-size="22.49" font-weight="bold" font-style="normal" textLength="43.39" lengthAdjust="spacingAndGlyphs" fill="#000">4-ha</text>
<text x="1057.59" y="874.60" font-size="21.11" font-weight="bold" font-style="normal" textLength="103.07" lengthAdjust="spacingAndGlyphs" fill="#000">galactinol</text>
<text x="1060.43" y="970.20" font-size="20.98" font-weight="bold" font-style="normal" textLength="99.41" lengthAdjust="spacingAndGlyphs" fill="#000">threonine</text>
<text x="1071.35" y="1066.50" font-size="20.42" font-weight="bold" font-style="normal" textLength="87.91" lengthAdjust="spacingAndGlyphs" fill="#000">cmd mix</text>
<text x="1839.04" y="684.51" font-size="29.75" font-weight="bold" font-style="normal" textLength="14.39" lengthAdjust="spacingAndGlyphs" fill="#000">a</text>
<text x="1375.39" y="780.73" font-size="28.11" font-weight="bold" font-style="normal" textLength="15.73" lengthAdjust="spacingAndGlyphs" fill="#000">c</text>
<text x="1434.42" y="877.43" font-size="27.91" font-weight="bold" font-style="normal" textLength="19.27" lengthAdjust="spacingAndGlyphs" fill="#000">b</text>
<text x="1336.56" y="973.72" font-size="29.02" font-weight="bold" font-style="normal" textLength="16.19" lengthAdjust="spacingAndGlyphs" fill="#000">c</text>
<text x="1899.03" y="1068.63" font-size="27.20" font-weight="bold" font-style="normal" textLength="14.60" lengthAdjust="spacingAndGlyphs" fill="#000">a</text>
<text x="1886.33" y="670.60" font-size="35.61" font-weight="bold" font-style="normal" textLength="26.61" lengthAdjust="spacingAndGlyphs" fill="#000">D</text>
<text x="1525.97" y="1188.29" font-size="28.19" font-weight="normal" font-style="italic" textLength="14.87" lengthAdjust="spacingAndGlyphs" fill="#000">μ</text>
<text x="1540.26" y="1188.50" font-size="28.06" font-weight="normal" font-style="normal" textLength="49.63" lengthAdjust="spacingAndGlyphs" fill="#000">max</text>
</svg>
</body></html>
